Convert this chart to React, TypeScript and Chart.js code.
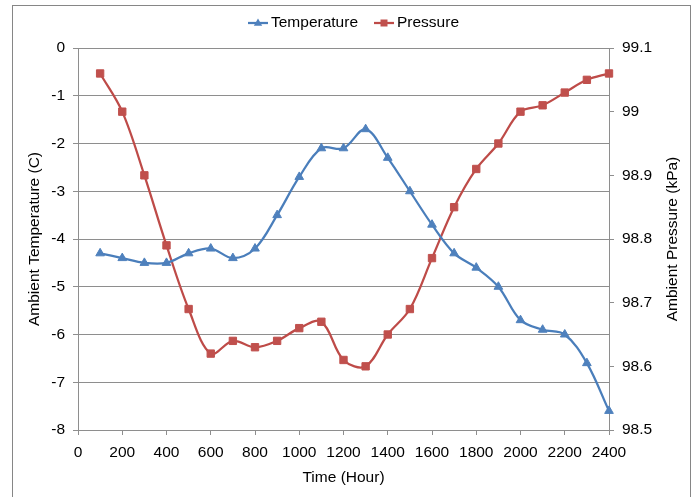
import { useEffect, useRef } from "react";
import { Chart, registerables } from "chart.js";

Chart.register(...registerables);

const hours = [100, 200, 300, 400, 500, 600, 700, 800, 900, 1000, 1100, 1200, 1300, 1400, 1500, 1600, 1700, 1800, 1900, 2000, 2100, 2200, 2300, 2400];
const temperature = [-4.3, -4.4, -4.5, -4.5, -4.3, -4.2, -4.4, -4.2, -3.5, -2.7, -2.1, -2.1, -1.7, -2.3, -3.0, -3.7, -4.3, -4.6, -5.0, -5.7, -5.9, -6.0, -6.6, -7.6];
const pressure = [99.06, 99.0, 98.9, 98.79, 98.69, 98.62, 98.64, 98.63, 98.64, 98.66, 98.67, 98.61, 98.6, 98.65, 98.69, 98.77, 98.85, 98.91, 98.95, 99.0, 99.01, 99.03, 99.05, 99.06];

const seriesNames = ["Temperature", "Pressure"];
const axisTitles = { x: "Time (Hour)", left: "Ambient Temperature (C)", right: "Ambient Pressure (kPa)" };

const BLUE_LINE = "#4A7EBB";
const BLUE_MARK = "#4F81BD";
const RED_LINE = "#BE4B48";
const RED_MARK = "#C0504D";
const GRID = "#8E8E8E";
const FONT_FAMILY = "'Liberation Sans', Arial, sans-serif";
const FONT_SIZE = 15.5;

const decor = {
  id: "decor",
  beforeDraw(chart: any) {
    const ctx = chart.ctx;
    ctx.save();
    ctx.fillStyle = "#ffffff";
    ctx.fillRect(0, 0, chart.width, chart.height);
    ctx.strokeStyle = "#868686";
    ctx.lineWidth = 1;
    ctx.strokeRect(12.5, 5.5, 678, 520);
    ctx.restore();
  },
  afterDraw(chart: any) {
    const ctx = chart.ctx;
    const area = chart.chartArea;
    ctx.save();
    ctx.fillStyle = "#000000";
    ctx.font = `${FONT_SIZE}px ${FONT_FAMILY}`;
    ctx.textBaseline = "middle";

    // axis titles
    ctx.textAlign = "center";
    ctx.fillText(axisTitles.x, (area.left + area.right) / 2, 478);
    ctx.save();
    ctx.translate(35, (area.top + area.bottom) / 2);
    ctx.rotate(-Math.PI / 2);
    ctx.fillText(axisTitles.left, 0, 0);
    ctx.restore();
    ctx.save();
    ctx.translate(673, (area.top + area.bottom) / 2);
    ctx.rotate(-Math.PI / 2);
    ctx.fillText(axisTitles.right, 0, 0);
    ctx.restore();

    // legend
    const ly = 23;
    const items = [
      { x: 248, name: seriesNames[0], line: BLUE_LINE, mark: BLUE_MARK, shape: "tri" },
      { x: 374, name: seriesNames[1], line: RED_LINE, mark: RED_MARK, shape: "rect" },
    ];
    for (const it of items) {
      ctx.strokeStyle = it.line;
      ctx.lineWidth = 2.25;
      ctx.beginPath();
      ctx.moveTo(it.x, ly);
      ctx.lineTo(it.x + 20, ly);
      ctx.stroke();
      ctx.fillStyle = it.mark;
      const cx = it.x + 10;
      ctx.beginPath();
      if (it.shape === "tri") {
        ctx.moveTo(cx, ly - 4.5);
        ctx.lineTo(cx + 4.2, ly + 2.7);
        ctx.lineTo(cx - 4.2, ly + 2.7);
        ctx.closePath();
      } else {
        ctx.rect(cx - 3.5, ly - 3.5, 7, 7);
      }
      ctx.fill();
      ctx.fillStyle = "#000000";
      ctx.textAlign = "left";
      ctx.fillText(it.name, it.x + 23, ly);
    }
    ctx.restore();
  },
};

export default function App() {
  const canvasRef = useRef<HTMLCanvasElement | null>(null);

  useEffect(() => {
    if (!canvasRef.current) return;
    const font = { family: FONT_FAMILY, size: FONT_SIZE };
    const chart = new Chart(canvasRef.current, {
      type: "line",
      data: {
        datasets: [
          {
            label: seriesNames[0],
            data: hours.map((h, i) => ({ x: h, y: temperature[i] })),
            yAxisID: "yT",
            borderColor: BLUE_LINE,
            backgroundColor: BLUE_MARK,
            pointBackgroundColor: BLUE_MARK,
            pointBorderColor: BLUE_MARK,
            pointStyle: "triangle",
            pointRadius: 5,
            pointBorderWidth: 1,
            borderWidth: 2.25,
            tension: 0.35,
            clip: false,
          },
          {
            label: seriesNames[1],
            data: hours.map((h, i) => ({ x: h, y: pressure[i] })),
            yAxisID: "yP",
            borderColor: RED_LINE,
            backgroundColor: RED_MARK,
            pointBackgroundColor: RED_MARK,
            pointBorderColor: RED_MARK,
            pointStyle: "rect",
            pointRadius: 5.2,
            pointBorderWidth: 1,
            borderWidth: 2.25,
            tension: 0.35,
            clip: false,
          },
        ],
      },
      options: {
        animation: false,
        responsive: true,
        maintainAspectRatio: false,
        layout: { padding: { top: 48, left: 0, right: 0, bottom: 0 } },
        plugins: { legend: { display: false }, tooltip: { enabled: false }, title: { display: false } },
        scales: {
          x: {
            type: "linear",
            min: 0,
            max: 2400,
            ticks: {
              stepSize: 200,
              color: "#000",
              font,
              padding: 8,
              maxRotation: 0,
              autoSkip: false,
              callback: (v: any) => String(v),
            },
            grid: { drawOnChartArea: false, drawTicks: true, tickLength: 5, color: GRID },
            border: { color: GRID },
            afterFit: (s: any) => {
              s.height = 67;
            },
          },
          yT: {
            type: "linear",
            position: "left",
            min: -8,
            max: 0,
            ticks: { stepSize: 1, color: "#000", font, padding: 8 },
            grid: { color: GRID, tickLength: 5 },
            border: { color: GRID },
            afterFit: (s: any) => {
              s.width = 78;
            },
          },
          yP: {
            type: "linear",
            position: "right",
            min: 98.5,
            max: 99.1,
            ticks: {
              stepSize: 0.1,
              color: "#000",
              font,
              padding: 8,
              callback: (v: any) => String(Number(Number(v).toFixed(1))),
            },
            grid: { drawOnChartArea: false, tickLength: 5, color: GRID },
            border: { color: GRID },
            afterFit: (s: any) => {
              s.width = 88;
            },
          },
        },
      },
      plugins: [decor],
    } as any);
    return () => chart.destroy();
  }, []);

  return (
    <div style={{ position: "fixed", left: 0, top: 0, width: 697, height: 497, background: "#fff" }}>
      <canvas ref={canvasRef} />
    </div>
  );
}
